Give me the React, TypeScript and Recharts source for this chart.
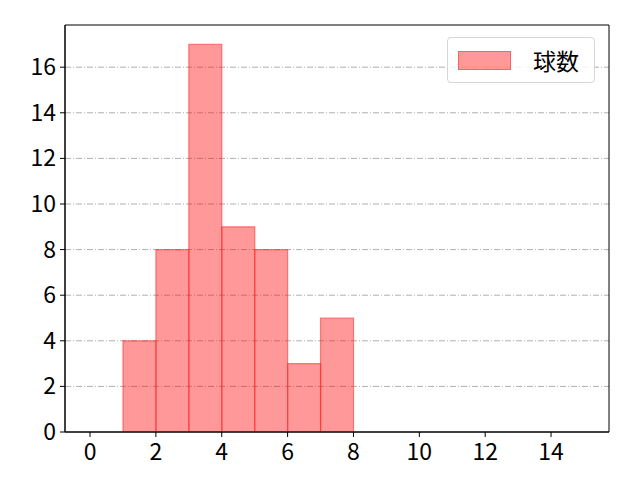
import { ComposedChart, Bar, XAxis, YAxis, CartesianGrid, ReferenceArea } from 'recharts';

const binStarts = [1, 2, 3, 4, 5, 6, 7];
const counts = [4, 8, 17, 9, 8, 3, 5];
const xTicks = [0, 2, 4, 6, 8, 10, 12, 14];
const yTicks = [0, 2, 4, 6, 8, 10, 12, 14, 16];

const data = binStarts.map((s, i) => ({ mid: s + 0.5, count: counts[i] }));

const FONT = '"Noto Sans CJK JP", "DejaVu Sans", sans-serif';
const X_DOMAIN: [number, number] = [-0.76, 15.76];
const Y_DOMAIN: [number, number] = [0, 17.85];

function XTick({ x, y, payload }: any) {
  return (
    <text x={x} y={y + 21} textAnchor="middle" fontSize={23} fontFamily={FONT} fill="#000">
      {payload.value}
    </text>
  );
}

function YTick({ x, y, payload }: any) {
  return (
    <text x={x - 2} y={y + 8} textAnchor="end" fontSize={23} fontFamily={FONT} fill="#000">
      {payload.value}
    </text>
  );
}

function LegendBox() {
  return (
    <div
      style={{
        position: 'absolute',
        left: 447,
        top: 37,
        width: 148,
        height: 46,
        border: '1px solid #d6d6d6',
        borderRadius: 4,
        background: 'rgba(255,255,255,0.8)',
        display: 'flex',
        alignItems: 'center',
        boxSizing: 'border-box',
        fontFamily: FONT,
        fontSize: 23,
        color: '#000',
      }}
    >
      <div
        style={{
          width: 53,
          height: 19,
          marginLeft: 10,
          background: 'rgba(255,0,0,0.4)',
          border: '1px solid rgba(255,60,60,0.6)',
          boxSizing: 'border-box',
        }}
      />
      <span style={{ marginLeft: 22 }}>球数</span>
    </div>
  );
}

export default function App() {
  return (
    <div style={{ position: 'absolute', left: 0, top: 0, width: 640, height: 480, background: '#fff' }}>
      <ComposedChart
        width={640}
        height={480}
        data={data}
        barCategoryGap={0}
        margin={{ top: 25, right: 31, bottom: 18, left: 15 }}
      >
        <CartesianGrid
          horizontal
          vertical={false}
          stroke="#b0b0b0"
          strokeDasharray="6 2 1 2"
          horizontalValues={[2, 4, 6, 8, 10, 12, 14, 16]}
        />
        <XAxis
          dataKey="mid"
          type="number"
          domain={X_DOMAIN}
          ticks={xTicks}
          allowDataOverflow
          stroke="#000"
          tickSize={5}
          height={30}
          tick={<XTick />}
        />
        <YAxis
          type="number"
          domain={Y_DOMAIN}
          ticks={yTicks}
          allowDataOverflow
          stroke="#000"
          tickSize={5}
          width={50}
          tick={<YTick />}
        />
        <Bar
          dataKey="count"
          name="球数"
          fill="rgba(255,0,0,0.4)"
          stroke="rgba(255,40,40,0.55)"
          strokeWidth={1.2}
          isAnimationActive={false}
        />
        <ReferenceArea
          x1={X_DOMAIN[0]}
          x2={X_DOMAIN[1]}
          y1={Y_DOMAIN[0]}
          y2={Y_DOMAIN[1]}
          fill="none"
          stroke="#000"
          strokeWidth={1}
          fillOpacity={0}
          ifOverflow="visible"
        />
      </ComposedChart>
      <LegendBox />
    </div>
  );
}
